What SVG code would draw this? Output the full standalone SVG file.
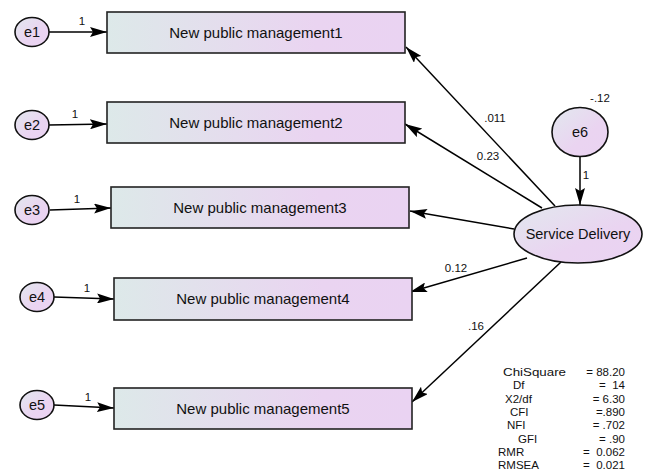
<svg xmlns="http://www.w3.org/2000/svg" width="650" height="475" viewBox="0 0 650 475">
<defs>
<linearGradient id="gb" x1="0" y1="0" x2="1" y2="0">
<stop offset="0" stop-color="#dde9e9"/>
<stop offset="0.7" stop-color="#ead4f1"/>
<stop offset="1" stop-color="#ead3f2"/>
</linearGradient>
<linearGradient id="ge" x1="0" y1="0" x2="1" y2="1">
<stop offset="0" stop-color="#e2e8ee"/>
<stop offset="0.6" stop-color="#ead4f1"/>
<stop offset="1" stop-color="#ead3f2"/>
</linearGradient>
<marker id="ah" markerWidth="17" markerHeight="10" refX="17" refY="5" orient="auto" markerUnits="userSpaceOnUse">
<path d="M0,0 L17,5 L0,10 L3,5 Z" fill="#000"/>
</marker>
<style>
.box{fill:url(#gb);stroke:#222;stroke-width:1.6}
.ell{fill:url(#ge);stroke:#111;stroke-width:1.6}
.t{font-family:"Liberation Sans",Arial,sans-serif;font-size:14.5px;fill:#111;text-anchor:middle}
.b{font-family:"Liberation Sans",Arial,sans-serif;font-size:15px;fill:#111;text-anchor:middle}
.s{font-family:"Liberation Sans",Arial,sans-serif;font-size:11.5px;fill:#111;text-anchor:middle}
.f{font-family:"Liberation Sans",Arial,sans-serif;font-size:11.5px;fill:#111}
.r{text-anchor:end}
.c{stroke:#000;stroke-width:1.5;fill:none;marker-end:url(#ah)}
</style>
</defs>
<rect width="650" height="475" fill="#fff"/>
<g id="connectors">
<line class="c" x1="49" y1="32" x2="107" y2="32"/>
<line class="c" x1="49" y1="125" x2="107" y2="124"/>
<line class="c" x1="50" y1="210" x2="111" y2="208"/>
<line class="c" x1="54" y1="297" x2="114" y2="299"/>
<line class="c" x1="54" y1="405" x2="114" y2="408"/>
<line class="c" x1="580" y1="157" x2="580" y2="205"/>
<line class="c" x1="555" y1="206" x2="406" y2="47"/>
<line class="c" x1="542" y1="208" x2="405" y2="124"/>
<line class="c" x1="514" y1="229" x2="410" y2="211"/>
<line class="c" x1="527" y1="258" x2="410" y2="292"/>
<line class="c" x1="561" y1="262" x2="412" y2="402"/>
<text class="s" x="82" y="25">1</text>
<text class="s" x="75" y="118">1</text>
<text class="s" x="77" y="203">1</text>
<text class="s" x="87" y="292">1</text>
<text class="s" x="88" y="401">1</text>
<text class="s" x="586" y="179">1</text>
<text class="s" x="600" y="102">-.12</text>
<text class="s" x="495" y="122">.011</text>
<text class="s" x="488" y="160">0.23</text>
<text class="s" x="456" y="272">0.12</text>
<text class="s" x="476" y="330">.16</text>
</g>
<g id="e1"><ellipse class="ell" cx="32" cy="32" rx="17" ry="14.5"/><text class="t" x="32" y="37">e1</text></g>
<g id="e2"><ellipse class="ell" cx="32" cy="125" rx="17" ry="14.5"/><text class="t" x="32" y="130">e2</text></g>
<g id="e3"><ellipse class="ell" cx="32" cy="210" rx="17" ry="14.5"/><text class="t" x="32" y="215">e3</text></g>
<g id="e4"><ellipse class="ell" cx="37" cy="297" rx="17" ry="14.5"/><text class="t" x="37" y="302">e4</text></g>
<g id="e5"><ellipse class="ell" cx="37" cy="405" rx="17" ry="14.5"/><text class="t" x="37" y="410">e5</text></g>
<g id="npm1"><rect class="box" x="107" y="12" width="298" height="41"/><text class="b" x="256" y="38">New public management1</text></g>
<g id="npm2"><rect class="box" x="107" y="102" width="298" height="41"/><text class="b" x="256" y="128">New public management2</text></g>
<g id="npm3"><rect class="box" x="111" y="187" width="298" height="41"/><text class="b" x="260" y="213">New public management3</text></g>
<g id="npm4"><rect class="box" x="114" y="278" width="298" height="42"/><text class="b" x="263" y="304">New public management4</text></g>
<g id="npm5"><rect class="box" x="114" y="388" width="298" height="41"/><text class="b" x="263" y="414">New public management5</text></g>
<g id="e6"><ellipse class="ell" cx="580" cy="132" rx="28" ry="24.5"/><text class="t" x="580" y="137">e6</text></g>
<g id="sd"><ellipse class="ell" cx="578" cy="234" rx="64" ry="29"/><text class="t" x="578" y="239">Service Delivery</text></g>
<g id="fit">
<text class="f" x="503" y="376" textLength="63" lengthAdjust="spacingAndGlyphs">ChiSquare</text>
<text class="f" x="513" y="389.3">Df</text>
<text class="f" x="505" y="402.6">X2/df</text>
<text class="f" x="510" y="415.9">CFI</text>
<text class="f" x="507" y="429.2">NFI</text>
<text class="f" x="518" y="442.5">GFI</text>
<text class="f" x="498" y="455.8">RMR</text>
<text class="f" x="498" y="469.1">RMSEA</text>
<text class="f r" x="625" y="376">= 88.20</text>
<text class="f r" x="625" y="389.3" xml:space="preserve">=  14</text>
<text class="f r" x="625" y="402.6">= 6.30</text>
<text class="f r" x="625" y="415.9">=.890</text>
<text class="f r" x="625" y="429.2">= .702</text>
<text class="f r" x="625" y="442.5">= .90</text>
<text class="f r" x="625" y="455.8" xml:space="preserve">=  0.062</text>
<text class="f r" x="625" y="469.1" xml:space="preserve">=  0.021</text>
</g>
</svg>
